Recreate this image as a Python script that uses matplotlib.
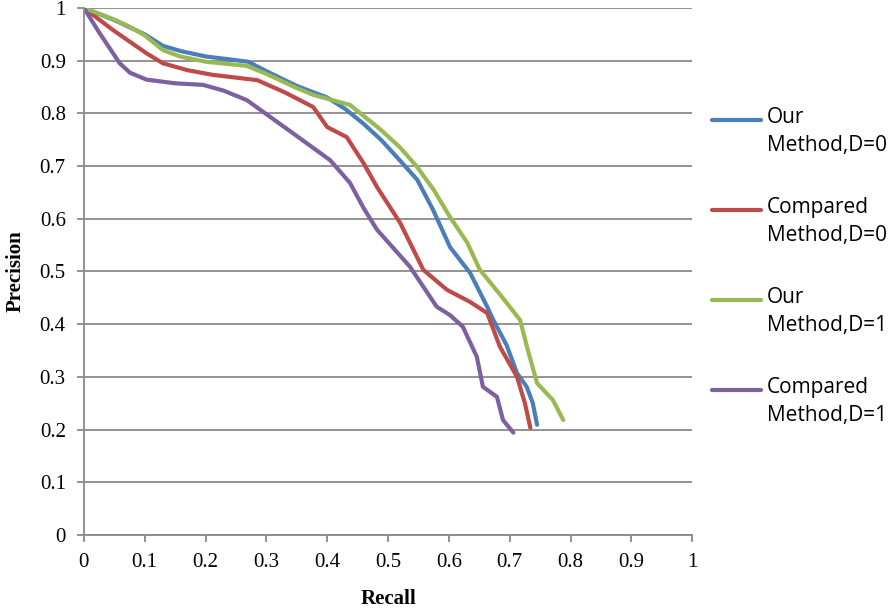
import matplotlib.pyplot as plt
from matplotlib.lines import Line2D
import numpy as np

# values
our_d0_x = [0, 0.05, 0.1, 0.13, 0.16, 0.2, 0.27, 0.3, 0.35, 0.4, 0.43, 0.46, 0.49, 0.52,
            0.548, 0.574, 0.602, 0.635, 0.663, 0.673, 0.695, 0.712, 0.728, 0.738, 0.745]
our_d0_y = [1.0, 0.977, 0.95, 0.928, 0.918, 0.908, 0.898, 0.88, 0.852, 0.83, 0.808, 0.78, 0.748, 0.71,
            0.674, 0.617, 0.546, 0.497, 0.433, 0.408, 0.36, 0.307, 0.281, 0.25, 0.209]

cmp_d0_x = [0, 0.048, 0.103, 0.13, 0.17, 0.212, 0.285, 0.33, 0.377, 0.4, 0.432, 0.46, 0.482,
            0.52, 0.558, 0.597, 0.635, 0.663, 0.684, 0.712, 0.725, 0.734]
cmp_d0_y = [1.0, 0.958, 0.914, 0.895, 0.882, 0.873, 0.863, 0.84, 0.812, 0.774, 0.755, 0.705, 0.66,
            0.592, 0.503, 0.465, 0.442, 0.421, 0.357, 0.30, 0.25, 0.203]

our_d1_x = [0, 0.05, 0.076, 0.1, 0.13, 0.158, 0.2, 0.268, 0.3, 0.35, 0.377, 0.4375, 0.46, 0.487,
            0.52, 0.548, 0.575, 0.602, 0.63, 0.651, 0.685, 0.717, 0.73, 0.745, 0.771, 0.788]
our_d1_y = [1.0, 0.978, 0.964, 0.948, 0.92, 0.908, 0.898, 0.89, 0.875, 0.848, 0.835, 0.816, 0.795, 0.77,
            0.735, 0.698, 0.655, 0.603, 0.555, 0.503, 0.455, 0.408, 0.35, 0.288, 0.256, 0.218]

cmp_d1_x = [0, 0.026, 0.059, 0.076, 0.103, 0.15, 0.196, 0.23, 0.268, 0.344, 0.405, 0.4375, 0.46,
            0.482, 0.536, 0.58, 0.602, 0.623, 0.646, 0.656, 0.679, 0.689, 0.706]
cmp_d1_y = [1.0, 0.952, 0.895, 0.877, 0.864, 0.857, 0.854, 0.843, 0.825, 0.762, 0.711, 0.668, 0.62,
            0.579, 0.509, 0.433, 0.417, 0.395, 0.338, 0.281, 0.262, 0.218, 0.194]

labels = ["Our\nMethod,D=0", "Compared\nMethod,D=0", "Our\nMethod,D=1", "Compared\nMethod,D=1"]
colors = ["#4A7EBB", "#BE4B48", "#98B954", "#7D60A0"]

W, H = 892, 612
fig = plt.figure(figsize=(W / 100, H / 100), dpi=100)
ax = fig.add_axes([0.094, 0.126, 0.682, 0.861])

series = [(our_d0_x, our_d0_y), (cmp_d0_x, cmp_d0_y), (our_d1_x, our_d1_y), (cmp_d1_x, cmp_d1_y)]
for (x, y), c in zip(series, colors):
    ax.plot(x, y, color=c, lw=3, solid_capstyle="round", solid_joinstyle="round")

ax.set_xlim(0, 1)
ax.set_ylim(0, 1)
ticks = np.round(np.arange(0, 1.01, 0.1), 1)
ax.set_xticks(ticks)
ax.set_yticks(ticks)
ax.set_xticklabels([("%g" % t) for t in ticks])
ax.set_yticklabels([("%g" % t) for t in ticks])
ax.grid(axis="y", color="#8a8a8a", lw=1.3)
ax.set_axisbelow(True)
for s in ["top", "right"]:
    ax.spines[s].set_visible(False)
for s in ["left", "bottom"]:
    ax.spines[s].set_color("#8a8a8a")
    ax.spines[s].set_linewidth(1.3)
ax.tick_params(colors="#8a8a8a", length=5, width=1.3, labelcolor="black", labelsize=15, pad=8)
for lbl in ax.get_xticklabels() + ax.get_yticklabels():
    lbl.set_family("Liberation Serif")

ax.set_xlabel("Recall", family="Liberation Serif", fontweight="bold", fontsize=15, labelpad=12)
ax.set_ylabel("Precision", family="Liberation Serif", fontweight="bold", fontsize=15, labelpad=10)

# legend drawn by hand: Excel puts the sample line level with the first text line
for i, (lab, c) in enumerate(zip(labels, colors)):
    py = 120 + 90 * i
    yf = 1 - py / H
    fig.add_artist(Line2D([712 / W, 761 / W], [yf, yf], color=c, lw=3, solid_capstyle="round"))
    fig.text(767 / W, 1 - (py - 13) / H, lab, family="Open Sans", fontsize=15,
             va="top", ha="left", linespacing=1.45)

plt.savefig("out.png", dpi=100)
